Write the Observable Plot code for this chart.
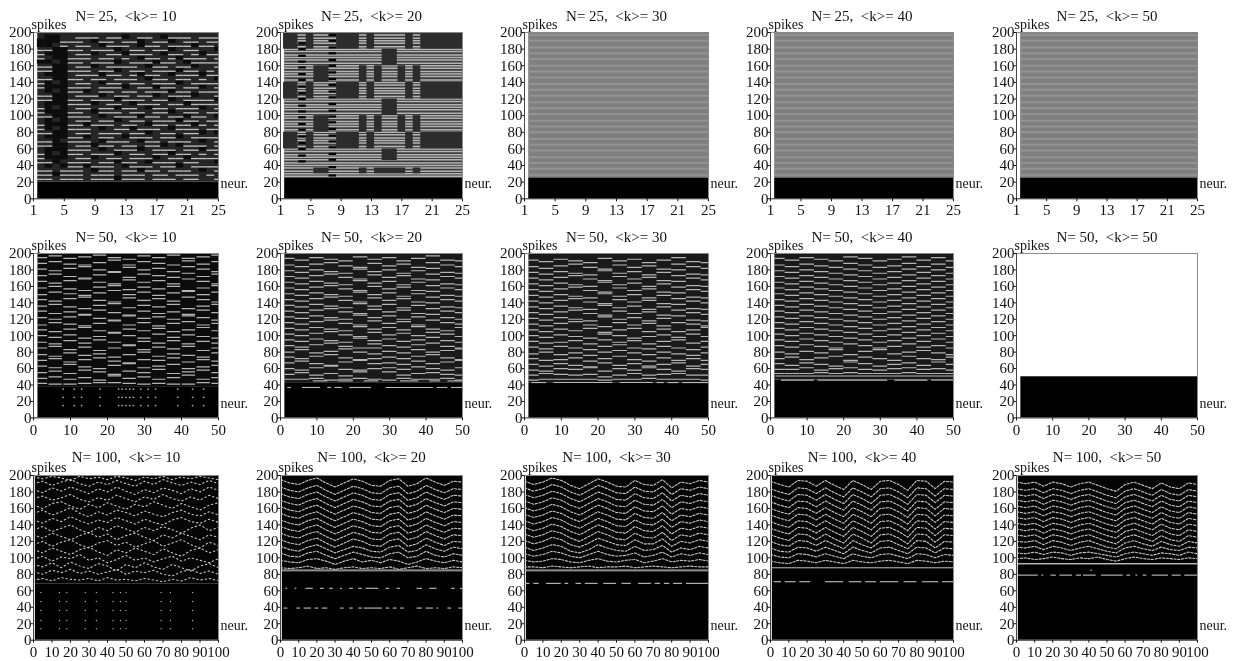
<!DOCTYPE html>
<html><head><meta charset="utf-8">
<script src="https://cdn.jsdelivr.net/npm/d3@7"></script>
<script src="https://cdn.jsdelivr.net/npm/@observablehq/plot@0.6"></script>
<style>
html,body{margin:0;padding:0;background:#fff;width:1233px;height:661px;overflow:hidden}
#g{position:relative;width:1233px;height:661px}
#g svg{position:absolute;filter:blur(.45px);overflow:visible;background:none}
</style></head><body><div id="g"></div>
<script>
const sizes=[25,50,100];
const degrees=[10,20,30,40,50];
const floors=[[20,25,25,25,25],[38,42,42,46,50],[68,83,83,87,91]];
const colLeft=[33,280,524,770,1016], colRight=[218,462,708,953,1197];
const rowTop=[31.7,253.3,475], rowBottom=[198,417.7,639.7];
const ticks25=[1,5,9,13,17,21,25], ticks50=[0,10,20,30,40,50], ticks100=[0,10,20,30,40,50,60,70,80,90,100];
const yTicks=[0,20,40,60,80,100,120,140,160,180,200];

// 25 / 10 raster, top row first; # spike, + faint, . silent
const raster2510=[
"+..++###+##.+##+.###+###",
"...###+.##+##.+##.+##+##",
"..+#+##+.###+.##+###.##+",
"##..##+###.+##+##.+##++.",
"#...+##.+##.###+.##+#.##",
"#+..###+##+#+.##+#.###+#",
"..+.##+###.+###.##+.####",
"##..+##.+####+.##+##.++#",
"##..###+##.+##+###.##+#+",
"+...+###.##+#.##+.###.##",
"##..##+##+###+.##+##+#+.",
"#.+.+##+.##+##+###.+####",
"#...###+###.+##.##+##.+#",
"+.+.##.+##+##+###.##+###",
"##..+###.+##+##.+###.++#",
"##..##+###.###+##.+####.",
"+...###.+##+.###+##.####",
"#.+.+##+##.##+.##+###.+#",
"#...##+.###+##+##.+##+##",
"##..###+.+###.##+##.##+.",
"+.+.+##+##.+##+###.##+##",
"#...##.###+##+.##+##.#+#",
"#.+.###+.+##.###+.###+##",
"##..+##+###+##.+##+##.+.",
"+...##.+##+.###+##.+####",
"##.+###+.###+.##+###+.+#",
"##..+##.##+##+##.+.###+#",
"+...###+.+###.+###+##.##",
"#.+.##+###.+##+##.##+#+#",
"#...+##.+##+###.+##.####",
"##.+###+##.##+.###+##++.",
"+.+.##.###+.###+##.+####",
"##+###+.##+##.##+###+.+#",
"##.###+###+###+##+###+#+",
"##+###+###.###+###+##++#"];
const rasterBottom=22, rasterPitch=5;

// stripes in the fully locked panels
const comb=[27,30,33,37,40,43,47,50,53,57,60,63,67,70,73,77,80,83,87,90,93,97,100,103,107,110,113,117,120,123,127,130,133,137,140,143,147,150,153,157,160,163,167,170,173,177,180,183,187,190,193,197];
const moire=[29,36,43,50,58,65,72,80,87,94,102,109,116,124,131,138,146,153,160,168,175,182,190,197];
// 25 / 20 locked blocks [x1,x2,y1,y2]
const blocks2520=[
[1.4,3.3,180,200],[4.4,5.4,180,200],[8.4,11.4,180,200],[12.4,13.4,180,200],[17.5,18.5,180,200],[19.5,25,180,200],
[1.4,3.3,120,140],[4.4,5.4,120,140],[8.4,11.4,120,140],[12.4,13.4,120,140],[17.5,18.5,120,140],[19.5,25,120,140],
[1.4,3.3,60,80],[4.4,5.4,60,80],[8.4,11.4,60,80],[12.4,13.4,60,80],[17.5,18.5,60,80],[19.5,25,60,80],
[5.4,7.4,140,160],[11.4,12.4,140,160],[13.4,14.4,140,160],[16.5,17.5,140,160],[18.5,19.5,140,160],
[5.4,7.4,80,100],[11.4,12.4,80,100],[13.4,14.4,80,100],[16.5,17.5,80,100],[18.5,19.5,80,100],
[14.4,16.4,160,180],[14.4,16.4,100,120],[14.4,16.4,46,60],
[5.4,7.4,30,37],[11.4,12.4,30,37],[13.4,17.5,30,37],[18.5,19.5,30,37]];
const col4Marks=[45,52,60,67,75,83,90,98,105,112,120,127,135,143,150,158,165,172,180,187];
const col8Marks=[28,38,47,54,62,69,76,84,92,99,106,114,122,129,137,144,152,160,167,175,182,190,197];

// sampled neurons of the wave fronts
const x50=[2,6,10,14,18,22,26,30,34,38,42,46,50];
const x100=[0,5,10,15,20,25,30,35,40,45,50,55,60,65,70,75,80,85,90,95,100];

const fronts5010=[
[42,41,41,42,43,43,42,41,42,41,41,43,42],
[48,50,47,49,46,51,48,50,47,49,52,47,49],
[55,57,54,58,56,53,57,55,59,54,56,58,55],
[63,61,65,62,60,64,66,61,63,65,60,62,64],
[70,72,68,71,73,69,67,71,70,73,68,71,69],
[77,75,79,76,78,74,77,80,75,78,76,74,79],
[85,87,83,86,82,85,88,83,86,84,87,82,85],
[92,90,94,91,95,92,89,93,91,94,90,93,91],
[100,98,101,97,99,103,100,97,102,98,101,99,97],
[107,105,108,110,106,104,108,106,109,105,107,110,106],
[113,116,114,112,115,118,113,116,112,115,117,113,115],
[122,120,123,125,121,119,124,121,123,120,124,122,119],
[130,127,129,126,131,128,125,130,127,129,126,131,128],
[136,138,135,133,137,139,134,137,135,138,133,136,138],
[144,142,145,147,143,141,146,143,145,142,147,144,141],
[150,153,151,149,152,155,150,153,149,152,154,150,153],
[158,160,157,155,159,161,156,159,157,160,155,158,161],
[166,164,167,169,165,163,168,165,167,163,169,166,163],
[173,175,172,170,174,177,171,175,173,171,176,172,175],
[181,179,182,184,180,178,183,180,182,178,184,181,178],
[188,190,187,186,189,192,186,190,188,186,191,187,190],
[195,197,194,196,198,195,193,197,195,198,194,196,198]];
const fronts5020=[
[47,47,48,46,47,48,47,46,48,47,47,48,46],
[53,55,52,54,51,56,60,56,52,54,55,53,52],
[60,58,61,63,59,58,66,61,59,62,60,58,61],
[67,69,66,64,68,70,72,67,65,69,66,68,70],
[74,72,75,77,73,71,78,74,72,75,77,73,71],
[80,83,79,81,84,80,85,81,79,83,80,82,84],
[88,86,89,91,87,85,90,88,86,89,91,87,85],
[95,93,96,94,92,97,94,96,93,95,98,94,92],
[102,100,103,105,101,99,104,101,103,100,104,102,99],
[109,107,110,108,106,111,108,110,107,111,108,106,110],
[116,114,117,119,115,113,118,115,117,113,119,116,114],
[123,121,124,122,120,125,122,124,120,123,126,122,120],
[130,128,131,133,129,127,132,129,131,127,133,130,128],
[137,135,138,136,134,139,136,138,134,137,140,135,134],
[144,142,145,147,143,141,146,143,145,141,147,144,142],
[151,149,152,150,148,153,150,152,148,151,154,149,148],
[158,156,159,161,157,155,160,157,159,155,161,158,156],
[165,163,166,164,162,167,164,166,162,165,168,163,162],
[172,170,173,175,171,169,174,171,173,169,175,172,170],
[179,177,180,178,176,181,178,180,176,179,182,177,176],
[186,184,187,189,185,183,188,185,187,183,189,186,184],
[194,192,195,193,191,196,193,195,191,194,197,192,191]];
const fronts5030=[
[46,47,47,47,47,46,47,47,48,47,47,47,46],
[52,54,53,52,53,50,52,54,52,53,54,52,52],
[58,57,60,59,61,57,60,58,61,59,57,60,59],
[65,63,66,64,62,67,64,66,63,65,67,63,65],
[72,70,71,73,69,72,75,71,69,73,70,72,70],
[78,80,77,79,76,80,82,79,77,80,78,76,79],
[86,84,87,85,83,87,89,85,84,87,85,83,86],
[93,91,92,94,90,95,92,94,90,93,95,91,93],
[100,98,101,99,97,102,100,97,99,101,98,102,99],
[107,105,108,106,109,104,107,109,105,108,105,107,110],
[114,112,115,117,113,111,116,113,115,112,116,114,112],
[121,119,122,120,118,123,120,122,118,121,124,119,118],
[128,126,129,131,127,125,130,127,129,125,131,128,126],
[135,133,136,134,132,137,134,136,132,135,138,133,132],
[142,140,143,145,141,139,144,141,143,139,145,142,140],
[149,147,150,148,146,151,148,150,146,149,152,147,146],
[156,154,157,159,155,153,158,155,157,153,159,156,154],
[163,161,164,162,160,165,162,164,160,163,166,161,160],
[170,168,171,173,169,167,172,169,171,167,173,170,168],
[177,175,178,176,174,179,176,178,174,177,180,175,174],
[184,182,185,187,183,181,186,183,185,181,187,184,182],
[192,190,193,191,189,194,191,193,189,192,195,190,189]];
const fronts5040=[
[54,54,54,55,54,55,54,54,54,55,54,54,54],
[59,59,61,58,60,61,59,58,60,61,59,60,58],
[66,64,67,65,63,68,66,63,65,67,64,68,65],
[72,74,71,73,75,70,74,72,70,75,72,71,74],
[80,78,81,79,83,77,81,83,78,80,82,79,77],
[88,86,89,87,85,90,88,85,87,90,86,88,85],
[95,93,96,94,92,97,95,92,94,97,93,96,92],
[102,100,103,101,99,104,102,99,101,104,100,103,99],
[109,107,110,108,106,111,109,106,108,111,107,110,106],
[116,114,117,115,113,118,116,113,115,118,114,117,113],
[123,121,124,122,120,125,123,120,122,125,121,124,120],
[130,128,131,129,127,132,130,127,129,132,128,131,127],
[137,135,138,136,134,139,137,134,136,139,135,138,134],
[144,142,145,143,141,146,144,141,143,146,142,145,141],
[151,149,152,150,148,153,151,148,150,153,149,152,148],
[158,156,159,157,155,160,158,155,157,160,156,159,155],
[165,163,166,164,162,167,165,162,164,167,163,166,162],
[172,170,173,171,169,174,172,169,171,174,170,173,169],
[179,177,180,178,176,181,179,176,178,181,177,180,176],
[186,184,187,185,183,188,186,183,185,188,184,187,183],
[194,192,195,193,191,196,194,191,193,196,192,195,191]];

const fronts10010=[
[73,75,72,76,74,73,75,72,76,73,74,72,75,73,71,74,72,76,73,75,72],
[83,80,85,82,86,81,84,80,83,86,80,84,82,85,80,78,83,86,81,84,80],
[92,89,94,88,95,90,87,93,90,84,92,88,94,89,86,92,88,84,90,93,88],
[98,102,96,101,99,104,97,100,94,98,103,97,100,95,99,102,96,100,97,94,99],
[110,106,112,108,104,110,113,107,103,110,106,112,108,104,111,106,102,109,112,106,110],
[116,120,114,119,122,116,112,118,121,115,119,113,117,121,114,118,122,116,112,119,115],
[128,124,130,126,122,127,131,125,129,122,127,130,125,121,128,124,130,126,122,128,125],
[134,138,132,136,140,134,130,137,133,139,135,131,137,133,138,134,130,136,140,133,137],
[146,142,148,144,150,145,141,146,143,149,145,141,147,143,140,146,149,144,142,147,143],
[154,158,152,156,161,154,150,156,152,158,155,151,157,153,150,155,158,153,151,156,152],
[164,160,166,168,163,159,165,161,167,163,159,165,162,168,164,160,166,162,158,164,167],
[172,175,170,173,177,171,168,173,170,176,172,168,174,171,177,172,169,174,170,176,172],
[183,179,185,181,186,182,178,184,180,186,181,177,183,179,185,182,178,184,180,186,182],
[190,193,188,192,195,190,187,192,189,194,190,187,193,189,195,191,188,192,189,194,190],
[198,196,199,197,194,199,196,198,195,199,197,194,198,196,199,195,198,196,199,197,195]];
const fronts10020=[
[88,87,88,90,87,88,86,88,89,87,88,87,89,86,88,90,87,88,87,89,88],
[97,95,94,98,99,96,92,96,99,95,97,94,98,96,92,95,99,96,94,97,95],
[106,102,101,106,108,103,99,103,107,104,101,100,105,107,100,102,108,103,101,105,103],
[114,110,108,113,116,111,106,110,114,112,108,107,113,115,107,109,116,111,108,113,111],
[122,118,116,121,124,118,113,118,123,120,115,114,121,123,114,117,124,119,115,120,119],
[130,126,124,129,132,126,121,126,131,128,123,122,129,131,122,125,132,127,123,128,127],
[138,134,132,137,140,134,129,134,139,136,131,130,137,139,130,133,140,135,131,136,135],
[146,142,140,145,148,142,137,142,147,144,139,138,145,147,138,141,148,143,139,144,143],
[154,150,148,153,156,150,145,150,155,152,147,146,153,155,146,149,156,151,147,152,151],
[162,158,156,161,164,158,153,158,163,160,155,154,161,163,154,157,164,159,155,160,159],
[170,166,164,169,172,166,161,166,171,168,163,162,169,171,162,165,172,167,163,168,167],
[178,174,172,177,180,174,169,174,179,176,171,170,177,179,170,173,180,175,171,176,175],
[186,182,180,185,188,182,177,182,187,184,179,178,185,187,178,181,188,183,179,184,183],
[195,191,189,194,197,191,186,191,196,193,188,187,194,196,187,190,197,192,188,193,192]];
const fronts10030=[
[89,89,88,90,89,88,89,90,88,89,89,90,88,89,90,89,88,89,90,89,89],
[97,95,96,99,98,95,94,97,99,96,95,97,98,94,96,99,95,97,96,98,96],
[105,102,104,108,106,102,100,104,108,104,102,103,106,101,103,107,101,105,103,106,104],
[113,109,112,116,114,108,106,110,116,112,109,108,114,109,110,115,107,112,110,114,112],
[121,117,120,125,122,116,113,118,124,120,116,115,122,117,117,123,114,120,118,122,120],
[129,125,128,133,130,124,120,126,132,128,123,122,130,125,124,131,121,128,126,130,128],
[137,133,136,141,138,132,128,134,140,136,131,130,138,133,132,139,129,136,134,138,136],
[145,141,144,149,146,140,136,142,148,144,139,138,146,141,140,147,137,144,142,146,144],
[153,149,152,157,154,148,144,150,156,152,147,146,154,149,148,155,145,152,150,154,152],
[161,157,160,165,162,156,152,158,164,160,155,154,162,157,156,163,153,160,158,162,160],
[169,165,168,173,170,164,160,166,172,168,163,162,170,165,164,171,161,168,166,170,168],
[177,173,176,181,178,172,168,174,180,176,171,170,178,173,172,179,169,176,174,178,176],
[185,181,184,189,186,180,176,182,188,184,179,178,186,181,180,187,177,184,182,186,184],
[193,189,192,197,194,188,184,190,196,192,187,186,194,189,188,195,185,192,190,194,192]];
const fronts10040=[
[96,94,93,97,96,94,97,95,93,97,95,94,96,97,95,93,97,96,94,96,95],
[104,101,100,105,104,101,105,102,99,105,102,100,104,105,102,99,105,104,100,104,103],
[112,108,107,113,112,108,113,109,105,113,109,106,112,113,109,105,113,112,106,112,111],
[120,116,114,121,120,115,121,116,111,121,116,112,120,121,116,111,121,120,112,120,119],
[128,124,121,129,128,122,129,123,118,129,124,118,128,129,124,117,129,128,119,128,127],
[136,132,129,137,136,130,137,131,126,137,132,126,136,137,132,125,137,136,127,136,135],
[144,140,137,145,144,138,145,139,134,145,140,134,144,145,140,133,145,144,135,144,143],
[152,148,145,153,152,146,153,147,142,153,148,142,152,153,148,141,153,152,143,152,151],
[160,156,153,161,160,154,161,155,150,161,156,150,160,161,156,149,161,160,151,160,159],
[168,164,161,169,168,162,169,163,158,169,164,158,168,169,164,157,169,168,159,168,167],
[176,172,169,177,176,170,177,171,166,177,172,166,176,177,172,165,177,176,167,176,175],
[184,180,177,185,184,178,185,179,174,185,180,174,184,185,180,173,185,184,175,184,183],
[193,189,186,194,193,187,194,188,183,194,189,183,193,194,189,182,194,193,184,193,192]];
const fronts10050=[
[99,100,98,99,101,99,98,100,99,101,98,96,99,101,99,98,100,99,98,100,99],
[106,105,107,104,107,106,103,106,107,105,103,101,105,107,105,103,106,105,103,107,105],
[113,112,114,110,114,112,109,112,114,111,108,106,112,114,111,109,113,110,109,113,112],
[120,119,121,116,121,119,115,119,121,117,113,111,118,121,117,114,120,116,114,120,118],
[128,126,128,123,128,126,122,126,128,124,120,117,125,128,124,120,127,122,120,127,125],
[135,133,135,130,135,133,129,133,135,131,127,124,132,135,131,127,134,129,127,134,132],
[142,140,142,137,142,140,136,140,142,138,134,131,139,142,138,134,141,136,134,141,139],
[149,147,149,144,149,147,143,147,149,145,141,138,146,149,145,141,148,143,141,148,146],
[156,154,156,151,156,154,150,154,156,152,148,145,153,156,152,148,155,150,148,155,153],
[163,161,163,158,163,161,157,161,163,159,155,152,160,163,159,155,162,157,155,162,160],
[170,168,170,165,170,168,164,168,170,166,162,159,167,170,166,162,169,164,162,169,167],
[177,175,177,172,177,175,171,175,177,173,169,166,174,177,173,169,176,171,169,176,174],
[184,182,184,179,184,182,178,182,184,180,176,173,181,184,180,176,183,178,176,183,181],
[192,190,192,187,192,190,186,190,192,188,184,181,189,192,188,184,191,186,184,191,189]];

// isolated dashes [y,x1,x2] inside or on the silent region
const dashes5020=[[37,2,3],[37,6,11],[37,13,14],[37,15,17],[37,19,25],[37,29,42],[37,43,46],[37,47,50],[45,9,13],[45,16,20],[45,23,27],[45,33,38],[45,41,44],[45,46,50]];
const dashes5030=[[43,2,6],[43,8,24],[43,26,35],[43,36,38],[43,39,42],[43,43,50]];
const dashes5040=[[46,3,12],[46,13,32],[46,34,43],[46,44,50],[51,1.5,50]];
const dashes10020=[[39,2,4],[39,9,11],[39,13,17],[39,19,21],[39,23,26],[39,33,35],[39,38,40],[39,43,45],[39,46,56],[39,58,60],[39,62,64],[39,66,68],[39,75,78],[39,80,84],[39,86,87],[39,92,94],[39,98,100],[63,3,4],[63,8,9],[63,14,18],[63,22,24],[63,27,29],[63,33,34],[63,38,40],[63,43,45],[63,47,54],[63,58,60],[63,64,66],[63,75,78],[63,82,86],[63,94,96],[63,99,100],[85,1,100]];
const dashes10030=[[69,1,3],[69,5,8],[69,12,20],[69,22,24],[69,28,31],[69,33,40],[69,43,50],[69,53,58],[69,62,69],[69,71,74],[69,76,79],[69,81,86],[69,88,100],[85,1,100]];
const dashes10040=[[71,2,6],[71,8,14],[71,16,22],[71,30,40],[71,43,50],[71,52,58],[71,60,70],[71,73,80],[71,83,92],[71,94,100],[88,1,100]];
const dashes10050=[[79,1,12],[79,14,15],[79,19,22],[79,24,31],[79,33,36],[79,37,44],[79,47,59],[79,61,63],[79,66,67],[79,70,72],[79,75,84],[79,86,91],[79,93,100],[93,1,100],[85,41,42]];
const dots5010Cols=[8,11,13,18,23,24,25,26,27,29,31,33,39,43,46];
const dots5010Rows=[15,25,35];
const dots10010Cols=[4,14,18,28,34,43,47,50,69,74,86];
const dots10010Rows=[14,24,36,47,58];

const frontTable={"50-10":fronts5010,"50-20":fronts5020,"50-30":fronts5030,"50-40":fronts5040,"100-10":fronts10010,"100-20":fronts10020,"100-30":fronts10030,"100-40":fronts10040,"100-50":fronts10050};
const dashTable={"50-20":dashes5020,"50-30":dashes5030,"50-40":dashes5040,"100-20":dashes10020,"100-30":dashes10030,"100-40":dashes10040,"100-50":dashes10050};
const dotTable={"50-10":[dots5010Rows,dots5010Cols],"100-10":[dots10010Rows,dots10010Cols]};

const serif="'Liberation Serif','Times New Roman',serif";
const g=document.getElementById("g");
const mL=34,mR=40,mT=30,mB=24;
sizes.forEach((N,r)=>degrees.forEach((k,c)=>{
  const key=N+"-"+k, floor=floors[r][c];
  const xmin=N===25?1:0, start=N===25?1.55:N===50?1.2:1;
  const W=colRight[c]-colLeft[c]+mL+mR, H=rowBottom[r]-rowTop[r]+mT+mB;
  const xt=N===25?ticks25:N===50?ticks50:ticks100;
  const marks=[];
  const region=(fill)=>Plot.rect([0],{x1:()=>start,x2:()=>N,y1:()=>floor,y2:()=>200,fill});
  if(N===25&&k===10){
    marks.push(region("#262626"));
    const cells=raster2510.flatMap((s,i)=>[...s].map((ch,j)=>({ch,j:j+1.5,y:rasterBottom+(raster2510.length-1-i)*rasterPitch})));
    marks.push(Plot.rect(cells.filter(d=>d.ch==="."),{x1:"j",x2:d=>d.j+1,y1:"y",y2:d=>d.y+rasterPitch,fill:"#0c0c0c",clip:true}));
    marks.push(Plot.rect(cells.filter(d=>d.ch==="#"),{x1:"j",x2:d=>d.j+1,y1:"y",y2:d=>d.y+1.6,fill:"#bdbdbd",clip:true}));
  } else if(N===25&&k===20){
    marks.push(region("#3e3e3e"));
    marks.push(Plot.ruleY(comb,{x1:start,x2:25,stroke:"#b4b4b4",strokeWidth:1.5}));
    marks.push(Plot.rect(blocks2520,{x1:"0",x2:"1",y1:"2",y2:"3",fill:"#2c2c2c"}));
    marks.push(Plot.ruleY(col4Marks,{x1:3.4,x2:4.4,stroke:"#000",strokeWidth:2.2}));
    marks.push(Plot.ruleY(col8Marks,{x1:7.4,x2:8.4,stroke:"#000",strokeWidth:2.2}));
  } else if(N===25){
    marks.push(region("#7f7f7f"));
    marks.push(Plot.ruleY(moire,{x1:start,x2:25,stroke:"#939393",strokeWidth:2}));
  } else if(N===50&&k===50){
    marks.push(region("#fff"));
  } else if(N===50){
    marks.push(region(k===10?"#0c0c0c":"#1a1a1a"));
    const half=k===10?1.8:2;
    const pts=frontTable[key].flatMap((row,i)=>row.map((y,j)=>({x:x50[j],y})));
    marks.push(Plot.ruleY(pts,{y:"y",x1:d=>Math.max(start,d.x-half),x2:d=>Math.min(50,d.x+half),stroke:"#b4b4b4",strokeWidth:1.2,clip:true}));
  } else {
    marks.push(region("#050505"));
    const pts=frontTable[key].flatMap((row,i)=>row.map((y,j)=>({x:x100[j],y,z:i})));
    marks.push(Plot.line(pts,{x:"x",y:"y",z:"z",stroke:"#c6c6c6",strokeWidth:1.1,clip:true,
      strokeDasharray:k===10?"1.4,2.8":"2.2,1.6"}));
  }
  marks.push(Plot.rect([0],{x1:()=>start,x2:()=>N,y1:()=>0,y2:()=>floor,fill:"#000"}));
  if(dotTable[key]){
    const dots=d3.cross(dotTable[key][0],dotTable[key][1]);
    marks.push(Plot.dot(dots,{x:"1",y:"0",r:N===50?0.9:0.7,fill:"#aaa"}));
  }
  if(dashTable[key]){
    marks.push(Plot.ruleY(dashTable[key],{y:"0",x1:"1",x2:"2",stroke:"#b8b8b8",strokeWidth:1.15}));
  }
  marks.push(Plot.ruleX([N],{y1:0,y2:200,stroke:"#8a8a8a",strokeWidth:1}));
  marks.push(Plot.ruleY([200],{x1:xmin,x2:N,stroke:"#8a8a8a",strokeWidth:1}));
  marks.push(Plot.ruleX([xmin],{y1:0,y2:200,stroke:"#444",strokeWidth:1}));
  marks.push(Plot.ruleY([0],{x1:xmin,x2:N,stroke:"#222",strokeWidth:1}));
  marks.push(Plot.axisX({ticks:xt,tickSize:3,tickPadding:3,label:null,tickFormat:d=>String(d),fontSize:15}));
  marks.push(Plot.axisY({ticks:yTicks,tickSize:2,tickPadding:0,label:null,tickFormat:d=>String(d),fontSize:15}));
  marks.push(Plot.text(["N=\u00a0"+N+",\u00a0\u00a0<k>=\u00a0"+k],{frameAnchor:"top",lineAnchor:"middle",dy:r===2?-18:-16,fontSize:15,fill:"#111"}));
  marks.push(Plot.text(["spikes"],{x:()=>xmin,y:()=>200,dy:-8,dx:-2,textAnchor:"start",fontSize:14,fill:"#111"}));
  marks.push(Plot.text(["neur."],{x:()=>N,y:()=>18,dx:2,textAnchor:"start",fontSize:14,fill:"#111"}));
  const svg=Plot.plot({width:W,height:H,marginLeft:mL,marginRight:mR,marginTop:mT,marginBottom:mB,
    x:{domain:[xmin,N],axis:null},y:{domain:[0,200],axis:null},
    style:{fontFamily:serif,background:"none",color:"#111",overflow:"visible"},marks});
  svg.style.left=(colLeft[c]-mL)+"px";
  svg.style.top=(rowTop[r]-mT)+"px";
  g.appendChild(svg);
}));
</script></body></html>
